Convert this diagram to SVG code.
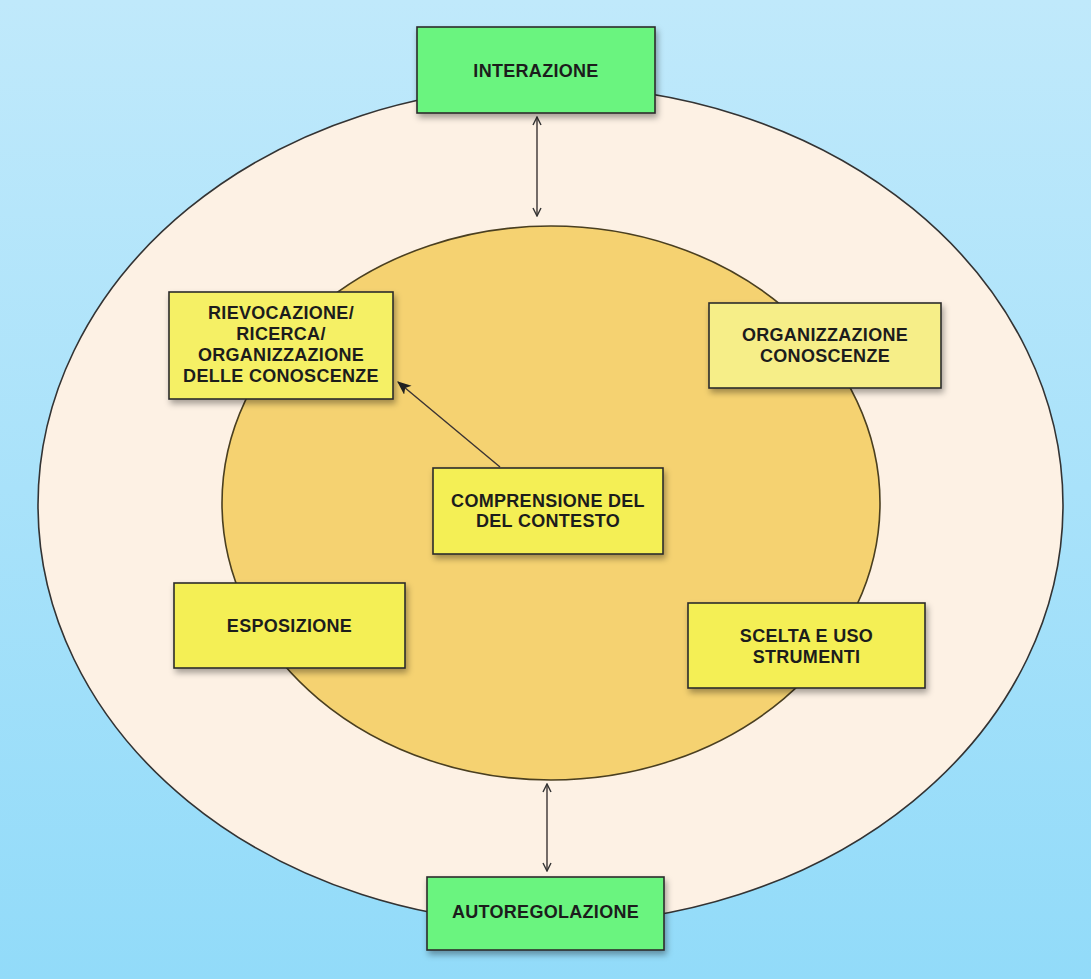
<svg xmlns="http://www.w3.org/2000/svg" width="1091" height="979" viewBox="0 0 1091 979">
<defs>
<linearGradient id="bg" x1="0" y1="0" x2="0" y2="1">
<stop offset="0" stop-color="#c0e9fb"/>
<stop offset="1" stop-color="#92dbf9"/>
</linearGradient>
<filter id="sh" x="-10%" y="-10%" width="125%" height="135%">
<feDropShadow dx="2" dy="4" stdDeviation="3" flood-color="#000" flood-opacity="0.35"/>
</filter>
<marker id="open" viewBox="0 0 10 10" refX="9" refY="5" markerWidth="10" markerHeight="10" markerUnits="userSpaceOnUse" orient="auto-start-reverse">
<path d="M1,1 L9,5 L1,9" fill="none" stroke="#333" stroke-width="1.4"/>
</marker>
<marker id="solid" viewBox="0 0 12 10" refX="11" refY="5" markerWidth="14" markerHeight="12" markerUnits="userSpaceOnUse" orient="auto">
<path d="M0,0 L12,5 L0,10 L3,5 Z" fill="#222"/>
</marker>
</defs>
<style>
.box{stroke:#2b2b2b;stroke-width:1.6;filter:url(#sh)}
.green{fill:#6bf47f}
.yel{fill:#f4ef55}
.lyel{fill:#f6ee88}
text{font-family:"Liberation Sans",Arial,sans-serif;font-weight:bold;font-size:18px;letter-spacing:0.3px;fill:#1c1c1c;text-anchor:middle}
.conn{stroke:#3a3333;stroke-width:1.4;fill:none}
</style>
<rect x="0" y="0" width="1091" height="979" fill="url(#bg)"/>
<g id="outer">
<ellipse cx="550.5" cy="505" rx="512.5" ry="419" fill="#fdf1e4" stroke="#333" stroke-width="1.6"/>
</g>
<g id="inner">
<ellipse cx="551" cy="503" rx="329" ry="277" fill="#f5d271" stroke="#4a3f20" stroke-width="1.6"/>
</g>
<g id="connectors">
<line class="conn" x1="537" y1="117" x2="537" y2="216" marker-start="url(#open)" marker-end="url(#open)"/>
<line class="conn" x1="547" y1="784" x2="547" y2="871" marker-start="url(#open)" marker-end="url(#open)"/>
<line class="conn" x1="500" y1="467" x2="398" y2="382" stroke="#222" stroke-width="1.6" marker-end="url(#solid)"/>
</g>
<g id="interazione">
<rect class="box green" x="417" y="27" width="238" height="86"/>
<text x="536" y="77">INTERAZIONE</text>
</g>
<g id="autoregolazione">
<rect class="box green" x="427" y="877" width="237" height="73"/>
<text x="545.5" y="918">AUTOREGOLAZIONE</text>
</g>
<g id="rievocazione">
<rect class="box yel" x="169" y="292" width="224" height="107" style="fill:#f5f065"/>
<text x="281" y="319">RIEVOCAZIONE/</text>
<text x="281" y="340">RICERCA/</text>
<text x="281" y="361">ORGANIZZAZIONE</text>
<text x="281" y="382">DELLE CONOSCENZE</text>
</g>
<g id="organizzazione">
<rect class="box lyel" x="709" y="303" width="232" height="85"/>
<text x="825" y="341">ORGANIZZAZIONE</text>
<text x="825" y="362">CONOSCENZE</text>
</g>
<g id="comprensione">
<rect class="box yel" x="433" y="468" width="230" height="86"/>
<text x="548" y="507">COMPRENSIONE DEL</text>
<text x="548" y="527">DEL CONTESTO</text>
</g>
<g id="esposizione">
<rect class="box yel" x="174" y="583" width="231" height="85"/>
<text x="289.5" y="632">ESPOSIZIONE</text>
</g>
<g id="scelta">
<rect class="box yel" x="688" y="603" width="237" height="85"/>
<text x="806.5" y="642">SCELTA E USO</text>
<text x="806.5" y="663">STRUMENTI</text>
</g>
</svg>
